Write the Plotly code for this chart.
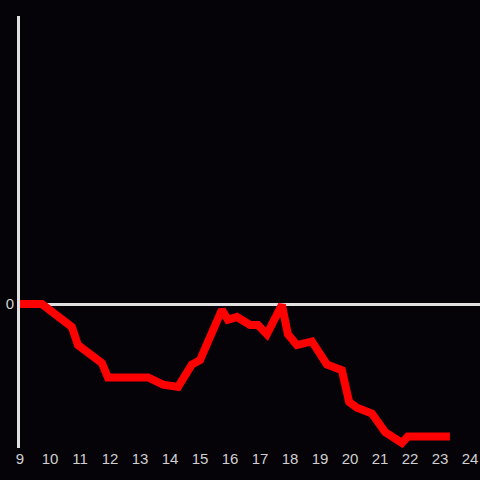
import plotly.graph_objects as go

hours = [9.0, 9.73, 10.73, 10.93, 11.73, 11.93, 13.27, 13.77, 14.27, 14.73, 15.0,
         15.73, 15.93, 16.23, 16.67, 16.93, 17.23, 17.73, 17.93, 18.23, 18.73,
         19.23, 19.73, 19.97, 20.23, 20.73, 21.17, 21.73, 21.93, 23.33]
values = [0.0, 0.0, -0.16, -0.285, -0.41, -0.51, -0.51, -0.56, -0.576, -0.42, -0.39,
          -0.04, -0.11, -0.09, -0.145, -0.145, -0.21, -0.005, -0.21, -0.285, -0.26,
          -0.42, -0.46, -0.68, -0.72, -0.76, -0.89, -0.965, -0.92, -0.92]
x_ticks = list(range(9, 25))

fig = go.Figure()
fig.add_trace(go.Scatter(x=hours, y=values, mode="lines",
                         line=dict(color="#ff0000", width=8), hoverinfo="skip"))

fig.update_layout(
    width=480, height=480,
    margin=dict(l=20, r=0, t=16, b=32),
    paper_bgcolor="#050308", plot_bgcolor="#050308",
    showlegend=False,
    font=dict(family="Liberation Sans, Arial, sans-serif", size=15, color="#d0d0d0"),
    xaxis=dict(range=[9, 24.333], tickvals=x_ticks, ticktext=[str(t) for t in x_ticks],
               showgrid=False, zeroline=False, showline=False, ticks="", ticklen=0),
    yaxis=dict(range=[-1, 2], tickvals=[0], ticktext=["0"], showgrid=False,
               zeroline=True, zerolinecolor="#e0e0e0", zerolinewidth=3,
               showline=True, linecolor="#e0e0e0", linewidth=3, ticks="", ticklen=0),
)
fig.write_html("out.html", config={"displayModeBar": False},
               post_script="document.body.style.margin='0';document.body.style.overflow='hidden';")
